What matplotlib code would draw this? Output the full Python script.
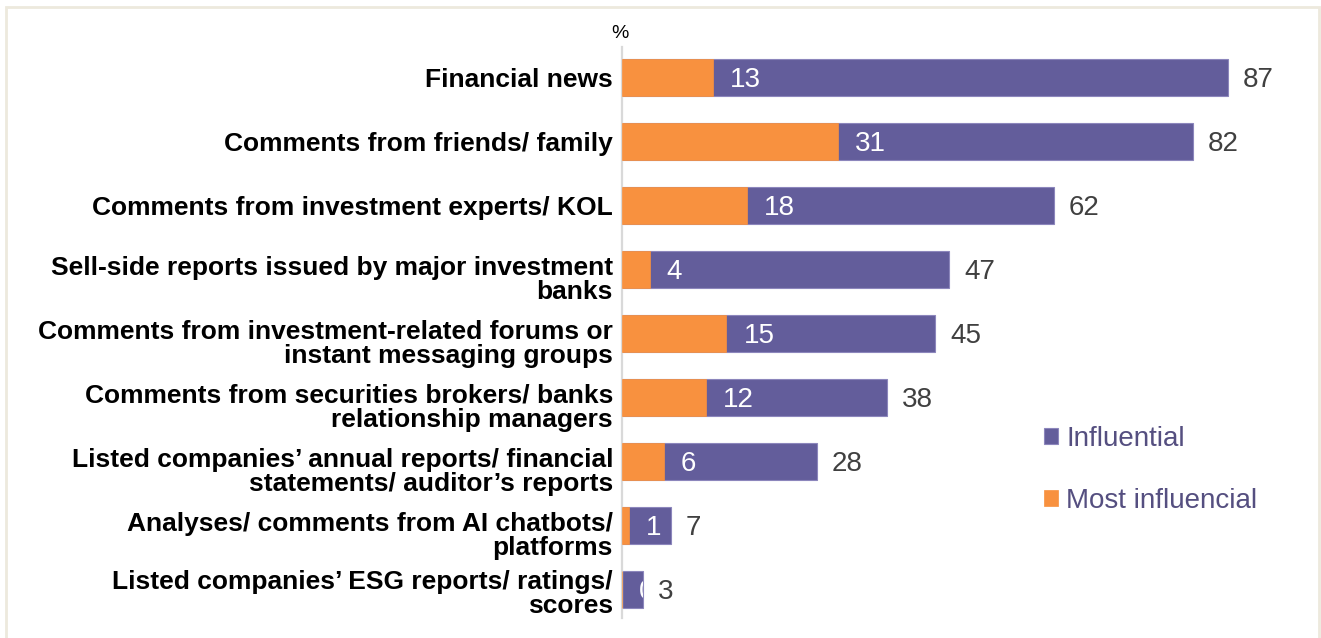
import matplotlib
matplotlib.use("Agg")
import matplotlib.pyplot as plt
from matplotlib.patches import Rectangle
from matplotlib.transforms import ScaledTranslation

plt.rcParams['font.family'] = ['Liberation Sans', 'DejaVu Sans']

categories = [
    "Financial news",
    "Comments from friends/ family",
    "Comments from investment experts/ KOL",
    "Sell-side reports issued by major investment\nbanks",
    "Comments from investment-related forums or\ninstant messaging groups",
    "Comments from securities brokers/ banks\nrelationship managers",
    "Listed companies\u2019 annual reports/ financial\nstatements/ auditor\u2019s reports",
    "Analyses/ comments from AI chatbots/\nplatforms",
    "Listed companies\u2019 ESG reports/ ratings/\nscores",
]
influential = [87, 82, 62, 47, 45, 38, 28, 7, 3]
most_influential = [13, 31, 18, 4, 15, 12, 6, 1, 0]
series_names = ["Influential", "Most influencial"]

PURPLE = "#635D9B"
ORANGE = "#F8913F"
W, H = 1321, 638

fig = plt.figure(figsize=(W / 100, H / 100), dpi=100)
fig.patches.append(Rectangle((6 / W, -0.01), (1319 - 6) / W, 1 - 7 / H + 0.01,
                             transform=fig.transFigure, fill=False,
                             edgecolor="#EDE9DD", linewidth=2))

ax_left, ax_right = 622 / W, 1300 / W
ax_top, ax_bot = 1 - 47 / H, 1 - 618 / H
ax = fig.add_axes([ax_left, ax_bot, ax_right - ax_left, ax_top - ax_bot])

px_per_unit = (1228 - 622) / 87
ax.set_xlim(0, (1300 - 622) / px_per_unit)
ax.set_ylim(8.44, -0.48)

ypos = list(range(len(categories)))
bars_inf = ax.barh(ypos, influential, height=0.58, color=PURPLE,
                   edgecolor="#8C86BC", linewidth=0.8, label=series_names[0], zorder=2)
bars_most = ax.barh(ypos, most_influential, height=0.58, color=ORANGE,
                    edgecolor=ORANGE, linewidth=0.5, label=series_names[1], zorder=3)

for i, (tot, most) in enumerate(zip(influential, most_influential)):
    t = ax.annotate(str(most), (most, i), xytext=(12.2, -1.5), textcoords="offset points",
                    ha="left", va="center", color="white", fontsize=20, zorder=4)
    t.set_clip_path(bars_inf[i])
    ax.annotate(str(tot), (tot, i), xytext=(10.8, -1.5), textcoords="offset points",
                ha="left", va="center", color="#404040", fontsize=20, zorder=4)

# category labels, drawn as text so multi-line ones can sit a little lower
ax.set_yticks([])
ax.set_xticks([])
label_tf = ax.get_yaxis_transform()
for i, cat in enumerate(categories):
    if "\n" not in cat:
        shift = -2
    elif i == len(categories) - 1:
        shift = -4
    else:
        shift = -10
    ax.text(0, i, cat, ha="right", va="center", fontsize=19, fontweight="bold",
            color="black", linespacing=1.0, multialignment="right",
            transform=label_tf + ScaledTranslation(-9 / 100, shift / 100, fig.dpi_scale_trans))

for s in ["top", "right", "bottom"]:
    ax.spines[s].set_visible(False)
ax.spines["left"].set_color("#D9D9D9")
ax.spines["left"].set_linewidth(1.6)

fig.text(620 / W, 1 - 33 / H, "%", ha="center", va="center", fontsize=14, color="black")

leg = fig.legend(handles=[bars_inf, bars_most], labels=series_names,
                 loc="center left", bbox_to_anchor=(1044 / W, 1 - 470 / H),
                 frameon=False, fontsize=20, handlelength=0.5, handleheight=0.5,
                 handletextpad=0.3, labelspacing=1.3, borderpad=0, borderaxespad=0)
for txt in leg.get_texts():
    txt.set_color("#554F80")

fig.savefig("out.png", dpi=100)
